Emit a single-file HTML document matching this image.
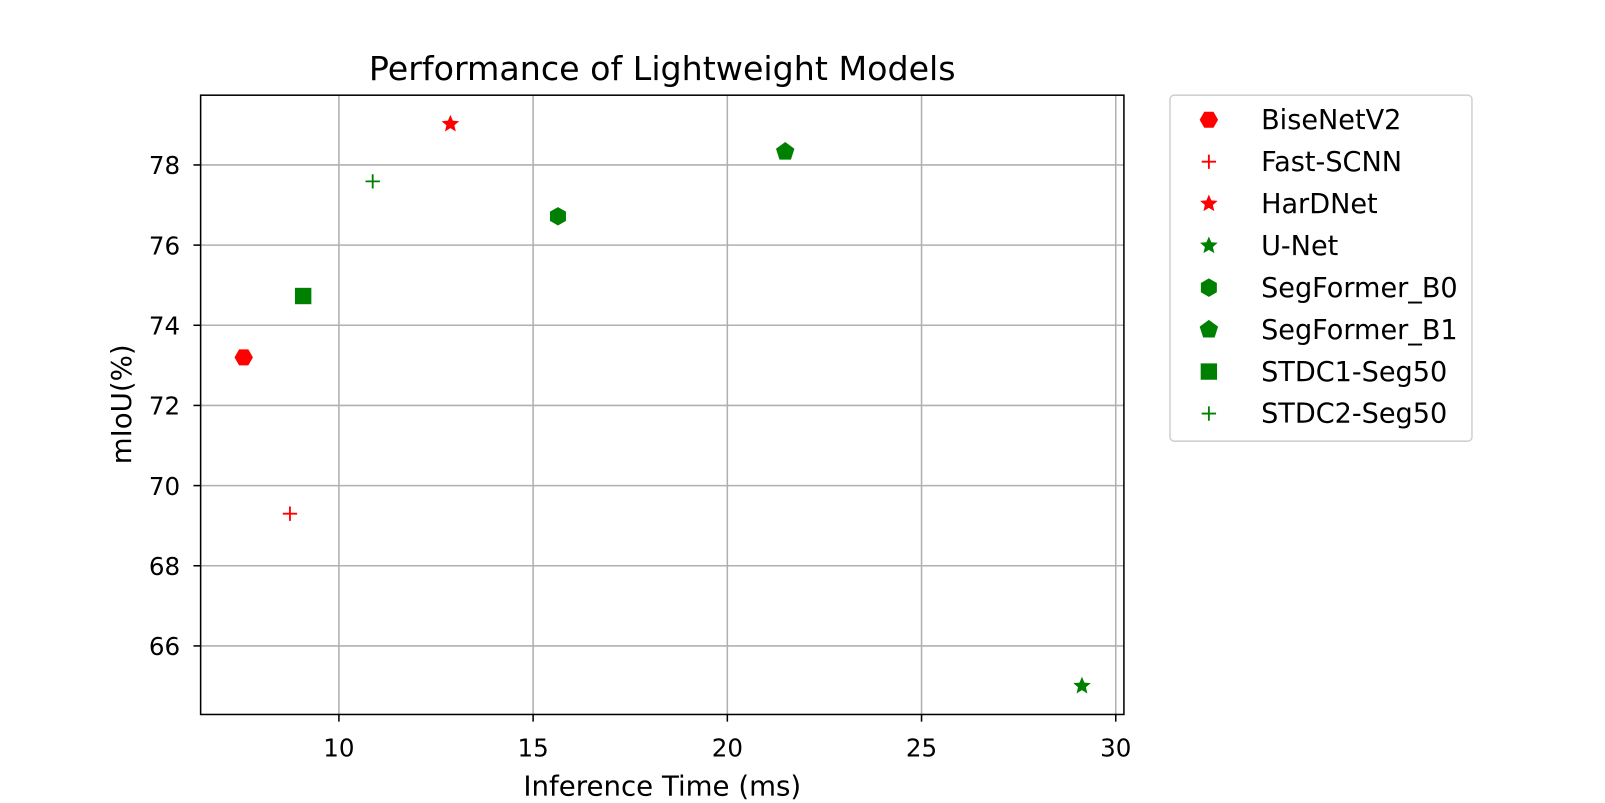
<!DOCTYPE html>
<html><head><meta charset="utf-8"><style>
body{margin:0;background:#fff;}
svg{display:block;font-family:"DejaVu Sans","Liberation Sans",sans-serif;}
</style></head><body>
<svg id="chart" width="1605" height="803" xmlns="http://www.w3.org/2000/svg"><g id="root" transform="scale(1.0236)"></g></svg>
<script>
const names=["BiseNetV2","Fast-SCNN","HarDNet","U-Net","SegFormer_B0","SegFormer_B1","STDC1-Seg50","STDC2-Seg50"];
const xVals=[7.55,8.74,12.87,29.13,15.64,21.49,9.08,10.87];
const yVals=[73.2,69.3,79.02,65.0,76.72,78.33,74.73,77.59];
const markers=["hexagon","plus","star","star","hexagon2","pentagon","square","plus"];
const colors=["red","red","red","green","green","green","green","green"];
const xTicks=[10,15,20,25,30];
const yTicks=[66,68,70,72,74,76,78];
const L=196,R=1098,T=93,B=698,xMin=6.44,xMax=30.21,yMin=64.29,yMax=79.74;
const sx=v=>L+(v-xMin)/(xMax-xMin)*(R-L);
const sy=v=>B-(v-yMin)/(yMax-yMin)*(B-T);
const svg=document.getElementById('root');
const NS="http://www.w3.org/2000/svg";
function mk(tag,attrs,parent){const e=document.createElementNS(NS,tag);for(const k in attrs)e.setAttribute(k,attrs[k]);(parent||svg).appendChild(e);return e;}
function poly(n,r,cx,cy,rot){let p=[];for(let i=0;i<n;i++){const a=rot+i*2*Math.PI/n;p.push((cx+r*Math.cos(a)).toFixed(1)+","+(cy+r*Math.sin(a)).toFixed(1));}return p.join(" ");}
function star(cx,cy,r){let p=[];for(let i=0;i<10;i++){const a=-Math.PI/2+i*Math.PI/5;const rr=i%2?r*0.45:r;p.push((cx+rr*Math.cos(a)).toFixed(1)+","+(cy+rr*Math.sin(a)).toFixed(1));}return p.join(" ");}
function marker(type,cx,cy,c,name){let e;
 if(type==="hexagon")e=mk('polygon',{points:poly(6,9,cx,cy,0),fill:c});
 else if(type==="hexagon2")e=mk('polygon',{points:poly(6,9,cx,cy,Math.PI/2),fill:c});
 else if(type==="pentagon")e=mk('polygon',{points:poly(5,9.5,cx,cy,-Math.PI/2),fill:c});
 else if(type==="star")e=mk('polygon',{points:star(cx,cy,9),fill:c});
 else if(type==="square")e=mk('rect',{x:cx-8,y:cy-8,width:16,height:16,fill:c});
 else e=mk('path',{d:`M${cx-7},${cy}H${cx+7}M${cx},${cy-7}V${cy+7}`,stroke:c,'stroke-width':1.8,fill:'none'});
 
 
 return e;}
xTicks.forEach(t=>{const x=sx(t);
 const g=mk('line',{x1:x,x2:x,y1:T,y2:B,stroke:'#b0b0b0','stroke-width':1.5});
 
 
 mk('line',{x1:x,x2:x,y1:B,y2:B+7,stroke:'#000','stroke-width':1.5});
 const tx=mk('text',{x:x,y:B+41,'text-anchor':'middle','font-size':24});tx.textContent=t;
 
 });
yTicks.forEach(t=>{const y=sy(t);
 const g=mk('line',{x1:L,x2:R,y1:y,y2:y,stroke:'#b0b0b0','stroke-width':1.5});
 
 
 mk('line',{x1:L-7,x2:L,y1:y,y2:y,stroke:'#000','stroke-width':1.5});
 const tx=mk('text',{x:L-20,y:y+9,'text-anchor':'end','font-size':24});tx.textContent=t;
 
 });
const frame=mk('rect',{x:L,y:T,width:R-L,height:B-T,fill:'none',stroke:'#000','stroke-width':1.5});


names.forEach((n,i)=>marker(markers[i],sx(xVals[i]),sy(yVals[i]),colors[i],'point-'+n.toLowerCase()));
const title=mk('text',{x:647,y:78,'text-anchor':'middle','font-size':32.5});title.textContent="Performance of Lightweight Models";


const xl=mk('text',{x:647,y:777,'text-anchor':'middle','font-size':27});xl.textContent="Inference Time (ms)";


const yl=mk('text',{x:0,y:0,'text-anchor':'middle','font-size':27,transform:'translate(128,395) rotate(-90)'});yl.textContent="mIoU(%)";


const lg=mk('rect',{x:1143,y:93,width:295,height:338,rx:4,fill:'#fff',stroke:'#d0d0d0','stroke-width':1.5});


names.forEach((n,i)=>{const y=117+i*41;
 marker(markers[i],1181,y,colors[i],'legend-marker');
 const t=mk('text',{x:1232,y:y+9,'font-size':26.5});t.textContent=n;
 
 });
</script>
</body></html>
